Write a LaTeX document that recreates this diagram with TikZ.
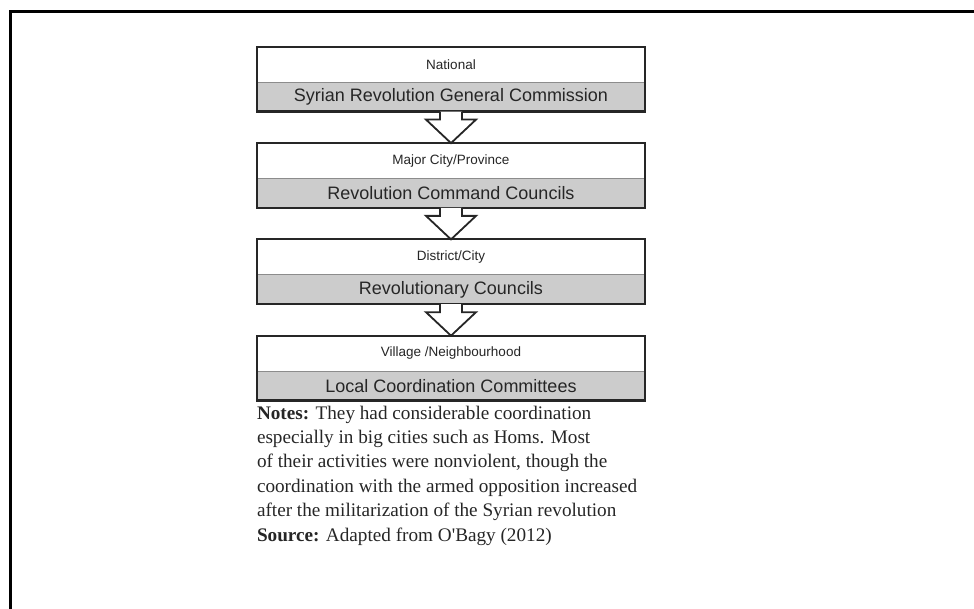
\documentclass[tikz,border=0pt]{standalone}
\usepackage{fontspec}
\setmainfont{Liberation Serif}
\newfontfamily\arialfont{Liberation Sans}
\newfontfamily\plainserif{Liberation Serif}
\usepackage{tikz}
\usetikzlibrary{positioning, calc}
\usepackage{xcolor}
\definecolor{bandgray}{HTML}{CCCCCC}

\begin{document}
\begin{tikzpicture}[
        x=1pt, y=1pt,
        node distance=0pt,
        level/.style={rectangle, fill=white, minimum width=388pt, minimum height=35pt, inner sep=0pt, text=black!85, font=\arialfont\fontsize{13.5}{16}\selectfont},
        body/.style={rectangle, fill=bandgray, minimum width=388pt, minimum height=29pt, inner sep=0pt, text=black!85, font=\arialfont\fontsize{18}{20}\selectfont},
        outline/.style={draw=black!85, line width=2.2pt},
        downarrow/.style={draw=black!85, fill=white, line width=1.8pt, line join=miter},
        notes/.style={inner sep=0pt, align=left, text=black!85, font=\fontsize{19.2}{24.4}\selectfont}
    ]
        \useasboundingbox (0,0) rectangle (974,-609);
        \draw [line width=3pt] (974,-12) -| (10,-609);

        \node [level] (nat) at (451,-64.5) {National};
        \node [body, below=of nat] (natb) {Syrian Revolution General Commission};

        \node [level, below=31.5pt of natb] (city) {Major City/Province};
        \node [body, below=of city] (cityb) {Revolution Command Councils};

        \node [level, below=31.5pt of cityb] (dist) {District/City};
        \node [body, below=of dist] (distb) {Revolutionary Councils};

        \node [level, below=31.5pt of distb] (vil) {Village /Neighbourhood};
        \node [body, below=of vil] (vilb) {Local Coordination Committees};

        \foreach \top/\bot in {nat/natb, city/cityb, dist/distb, vil/vilb} {
            \draw [black!45, line width=1pt] (\top.south west) -- (\top.south east);
            \draw [outline] (\top.north west) rectangle (\bot.south east);
        }

        \foreach \a/\b in {natb/city, cityb/dist, distb/vil}
            \draw [downarrow] ($(\a.south)+(-11,0)$) -- ++(0,-8) -- ++(-14,0) -- (\b.north)
                -- ($(\a.south)+(25,-8)$) -- ++(-14,0) -- ++(0,8);

        \node [notes, below=5pt of vilb.south west, anchor=north west] (note) {\textbf{Notes:} They had considerable coordination\\
            especially in big cities such as Homs. Most\\
            of their activities were nonviolent, though the\\
            coordination with the armed opposition increased\\
            after the militarization of the Syrian revolution\\
            \textbf{Source:} Adapted from O{\plainserif'}Bagy (2012)};
    \end{tikzpicture}
\end{document}
